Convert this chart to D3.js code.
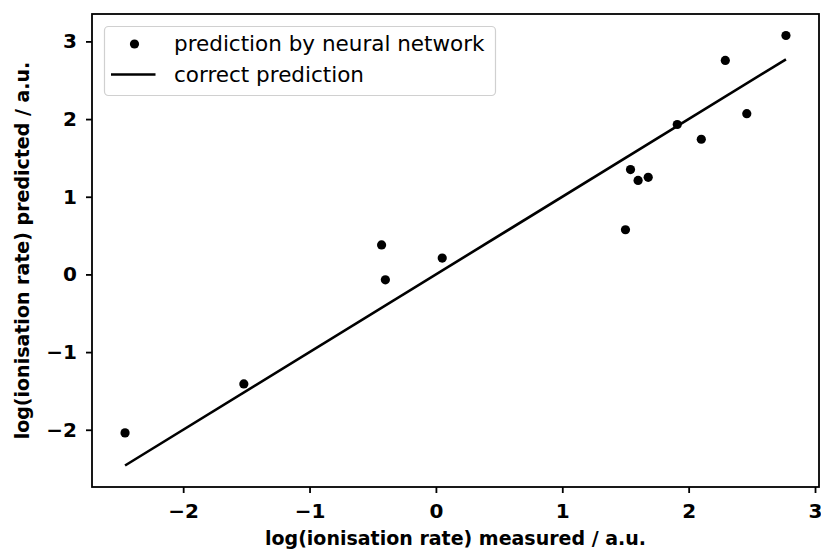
<!DOCTYPE html>
<html>
<meta charset="utf-8" />
<script src="https://d3js.org/d3.v7.min.js"></script>
<style>
  body { margin: 0; background: #fff; }
  text { font-family: "DejaVu Sans", sans-serif; }
</style>
<body>
<svg id="chart" width="821" height="551"></svg>
<script>
// measured vs predicted log(ionisation rate)
var measured = [-2.46, -1.52, -0.43, -0.40, 0.05, 1.50, 1.54, 1.60, 1.68, 1.91, 2.10, 2.29, 2.46, 2.77]
var predicted = [-2.04, -1.41, 0.38, -0.07, 0.21, 0.575, 1.35, 1.21, 1.25, 1.93, 1.74, 2.755, 2.07, 3.076]
var xTicks = [-2, -1, 0, 1, 2, 3]
var yTicks = [-2, -1, 0, 1, 2, 3]

var svg = d3.select("#chart")
var mLeft = 92, mRight = 819, mTop = 14, mBottom = 487

// matplotlib style 5% margins
function padded(lo, hi) {
  var m = (hi - lo) * 0.05
  return [lo - m, hi + m]
}
var xExt = d3.extent(measured)
var yExt = d3.extent(predicted.concat(xExt))

var x = d3.scaleLinear().domain(padded(xExt[0], xExt[1])).range([mLeft, mRight])
var y = d3.scaleLinear().domain(padded(yExt[0], yExt[1])).range([mBottom, mTop])

// correct prediction line (y = x)
svg.append("line")
  .attr("x1", x(xExt[0])).attr("y1", y(xExt[0]))
  .attr("x2", x(xExt[1])).attr("y2", y(xExt[1]))
  .attr("stroke", "#000").attr("stroke-width", 2.6)

// neural network points
svg.append("g")
  .selectAll("circle")
  .data(measured)
  .enter()
  .append("circle")
  .attr("cx", function(d) { return x(d) })
  .attr("cy", function(d, i) { return y(predicted[i]) })
  .attr("r", 4.6)
  .attr("fill", "#000")

var fmt = function(d) { return d < 0 ? "\u2212" + (-d) : d }

// axes
var xAxis = svg.append("g")
  .attr("transform", "translate(0," + mBottom + ")")
  .call(d3.axisBottom(x).tickValues(xTicks).tickSize(6).tickPadding(11).tickFormat(fmt))
var yAxis = svg.append("g")
  .attr("transform", "translate(" + mLeft + ",0)")
  .call(d3.axisLeft(y).tickValues(yTicks).tickSize(6).tickPadding(9).tickFormat(fmt))

;[xAxis, yAxis].forEach(function(a) {
  a.select(".domain").remove()
  a.selectAll("line").attr("stroke", "#000").attr("stroke-width", 1.8)
  a.selectAll("text")
    .attr("fill", "#000")
    .style("font-family", "DejaVu Sans")
    .style("font-size", "20px")
    .style("font-weight", "bold")
})

// frame
svg.append("rect")
  .attr("x", mLeft).attr("y", mTop)
  .attr("width", mRight - mLeft).attr("height", mBottom - mTop)
  .attr("fill", "none").attr("stroke", "#000").attr("stroke-width", 1.8)

// axis titles
svg.append("text")
  .attr("x", (mLeft + mRight) / 2).attr("y", 545)
  .attr("text-anchor", "middle")
  .style("font-size", "19px").style("font-weight", "bold")
  .text("log(ionisation rate) measured / a.u.")

svg.append("text")
  .attr("transform", "translate(29," + (mTop + mBottom) / 2 + ") rotate(-90)")
  .attr("text-anchor", "middle")
  .style("font-size", "19px").style("font-weight", "bold")
  .text("log(ionisation rate) predicted / a.u.")

// legend
var lg = svg.append("g")
lg.append("rect")
  .attr("x", 104.5).attr("y", 26.5).attr("width", 391).attr("height", 69)
  .attr("rx", 4).attr("fill", "#fff").attr("fill-opacity", 0.8)
  .attr("stroke", "#d0d0d0").attr("stroke-width", 1.2)
lg.append("circle").attr("cx", 134.5).attr("cy", 44).attr("r", 4.6).attr("fill", "#000")
lg.append("line").attr("x1", 111).attr("x2", 155.5).attr("y1", 74.5).attr("y2", 74.5)
  .attr("stroke", "#000").attr("stroke-width", 2.6)
lg.append("text").attr("x", 174).attr("y", 51).style("font-size", "21.5px")
  .text("prediction by neural network")
lg.append("text").attr("x", 174).attr("y", 82).style("font-size", "21.5px")
  .text("correct prediction")
</script>
</body>
</html>
